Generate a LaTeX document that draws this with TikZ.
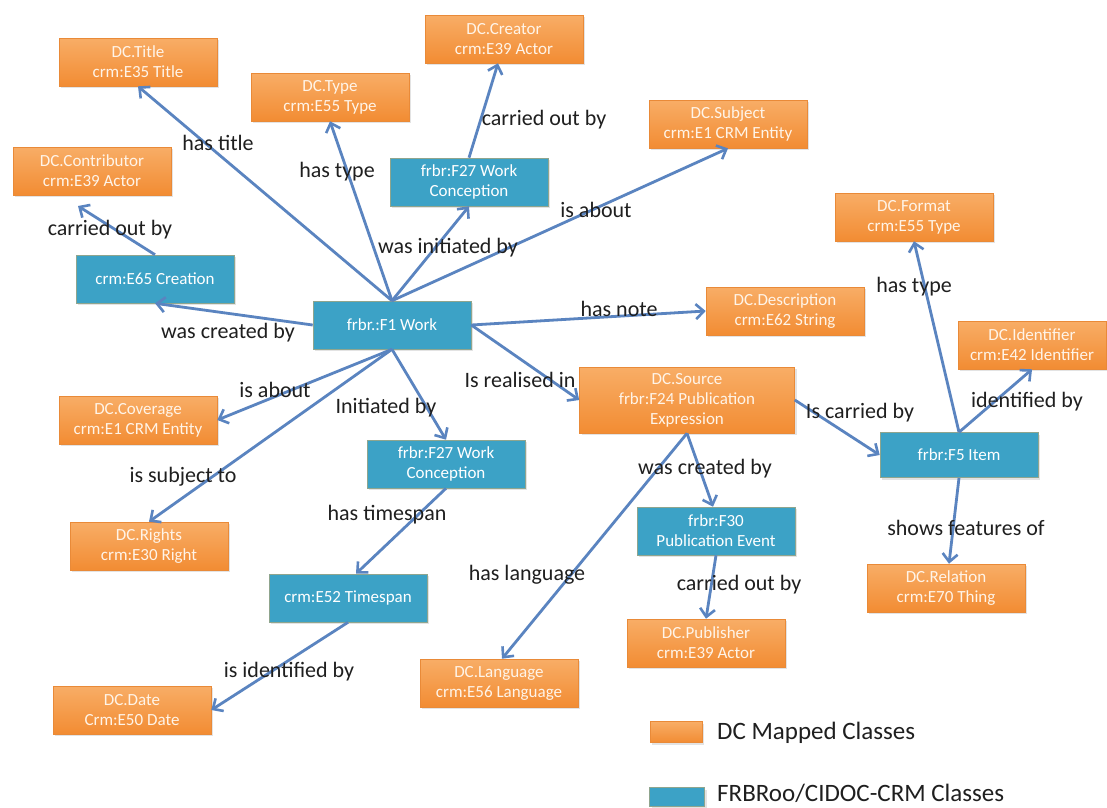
\documentclass[tikz,border=0pt]{standalone}
\usepackage{fontspec}
\setmainfont{Carlito}
\usetikzlibrary{arrows.meta,shadows}

\definecolor{dcedge}{HTML}{E98A38}
\definecolor{dctop}{HTML}{F8AD66}
\definecolor{dcbot}{HTML}{F28C33}
\definecolor{crmteal}{HTML}{3CA2C6}
\definecolor{crmedge}{HTML}{8FA58E}
\definecolor{linkblue}{HTML}{5A84C0}
\definecolor{boxtext}{HTML}{FFF4E8}

\begin{document}
\begin{tikzpicture}[x=1pt,y=-1pt,
  box/.style={rectangle, minimum width=158pt, minimum height=48pt, inner sep=2pt,
    align=center, font=\fontsize{17}{20}\selectfont,
    drop shadow={opacity=0.22, shadow xshift=2pt, shadow yshift=-2pt}},
  dc/.style={box, top color=dctop, bottom color=dcbot, draw=dcedge, line width=0.6pt, text=boxtext},
  crm/.style={box, fill=crmteal, draw=crmedge, line width=0.6pt, text=white},
  lbl/.style={font=\fontsize{22}{24}\selectfont, text=black!88, inner sep=1pt},
  legendtext/.style={font=\fontsize{25}{28}\selectfont, text=black!88, anchor=west, inner sep=0pt},
  link/.style={draw=linkblue, line width=2.8pt,
    -{Straight Barb[length=8pt,width=15pt,line width=2.6pt]}}
]
\fill[white] (0,0) rectangle (1107,807);
\useasboundingbox (0,0) rectangle (1107,807);

% Dublin Core mapped classes
\node[dc] (title)     at (138,62)  {DC.Title\\crm:E35 Title};
\node[dc] (type)      at (330,97)  {DC.Type\\crm:E55 Type};
\node[dc] (creator)   at (504,39)  {DC.Creator\\crm:E39 Actor};
\node[dc] (subject)   at (728,124) {DC.Subject\\crm:E1 CRM Entity};
\node[dc] (contrib)   at (92,171)  {DC.Contributor\\crm:E39 Actor};
\node[dc] (format)    at (914,217) {DC.Format\\crm:E55 Type};
\node[dc] (desc)      at (785,311) {DC.Description\\crm:E62 String};
\node[dc, minimum width=148pt] (ident) at (1032,345) {DC.Identifier\\crm:E42 Identifier};
\node[dc, minimum width=215pt, minimum height=66pt] (source) at (687,400)
  {DC.Source\\frbr:F24 Publication\\Expression};
\node[dc] (coverage)  at (138,420) {DC.Coverage\\crm:E1 CRM Entity};
\node[dc] (rights)    at (149,546) {DC.Rights\\crm:E30 Right};
\node[dc] (date)      at (132,710) {DC.Date\\Crm:E50 Date};
\node[dc] (language)  at (499,683) {DC.Language\\crm:E56 Language};
\node[dc] (publisher) at (706,643) {DC.Publisher\\crm:E39 Actor};
\node[dc] (relation)  at (946,588) {DC.Relation\\crm:E70 Thing};

% FRBRoo / CIDOC-CRM classes
\node[crm] (e65)  at (155,279) {crm:E65 Creation};
\node[crm] (work) at (392,325) {frbr.:F1 Work};
\node[crm] (f27a) at (469,182) {frbr:F27 Work\\Conception};
\node[crm] (f27b) at (446,464) {frbr:F27 Work\\Conception};
\node[crm] (e52)  at (348,598) {crm:E52 Timespan};
\node[crm] (f30)  at (716,531) {frbr:F30\\Publication Event};
\node[crm, minimum height=45pt] (item) at (959,455) {frbr:F5 Item};

\coordinate (contribtip) at (78,206);

% relations
\draw[link] (work.north) -- (title.south);
\draw[link] (work.north) -- (type.south);
\draw[link] (work.north) -- (f27a.south);
\draw[link] (work.north) -- (subject.south);
\draw[link] (f27a.north) -- ([xshift=-6pt]creator.south);
\draw[link] (e65.north) -- (contribtip);
\draw[link] (work.west) -- (e65.south);
\draw[link] (work.east) -- (desc.west);
\draw[link] (work.east) -- (source.west);
\draw[link] (work.south) -- (coverage.east);
\draw[link] (work.south) -- (rights.north);
\draw[link] (work.south) -- (f27b.north);
\draw[link] (f27b.south) -- ([xshift=8pt]e52.north);
\draw[link] (e52.south) -- (date.east);
\draw[link] (source.south) -- ([xshift=3pt]language.north);
\draw[link] (source.south) -- ([xshift=-3pt]f30.north);
\draw[link] (f30.south) -- (publisher.north);
\draw[link] (source.east) -- (item.west);
\draw[link] (item.north) -- (format.south);
\draw[link] (item.north) -- (ident.south);
\draw[link] (item.south) -- ([xshift=3pt]relation.north);

% relation labels
\node[lbl] (l1)  at (218,143) {has title};
\node[lbl] (l2)  at (337,172) {has type};
\node[lbl] (l3)  at (544,120) {carried out by};
\node[lbl] (l4)  at (596,210) {is about};
\node[lbl] (l5)  at (448,248) {was initiated by};
\node[lbl] (l6)  at (110,230) {carried out by};
\node[lbl] (l7)  at (228,333) {was created by};
\node[lbl] (l8)  at (619,309) {has note};
\node[lbl] (l9)  at (275,390) {is about};
\node[lbl] (l10) at (386,408) {Initiated by};
\node[lbl] (l11) at (520,380) {Is realised in};
\node[lbl] (l12) at (183,477) {is subject to};
\node[lbl] (l13) at (387,515) {has timespan};
\node[lbl] (l14) at (289,672) {is identified by};
\node[lbl] (l15) at (527,575) {has language};
\node[lbl] (l16) at (705,469) {was created by};
\node[lbl] (l17) at (739,585) {carried out by};
\node[lbl] (l18) at (914,287) {has type};
\node[lbl] (l19) at (1027,402) {identified by};
\node[lbl] (l20) at (860,413) {Is carried by};
\node[lbl] (l21) at (966,528) {shows features of};

% legend
\node[dc, minimum width=52pt, minimum height=21pt] (keydc) at (676,732) {};
\node[crm, minimum width=55pt, minimum height=19pt] (keycrm) at (677,797) {};
\node[legendtext] (keydctext)  at (717,733) {DC Mapped Classes};
\node[legendtext] (keycrmtext) at (717,793) {FRBRoo/CIDOC-CRM Classes};
\end{tikzpicture}
\end{document}
